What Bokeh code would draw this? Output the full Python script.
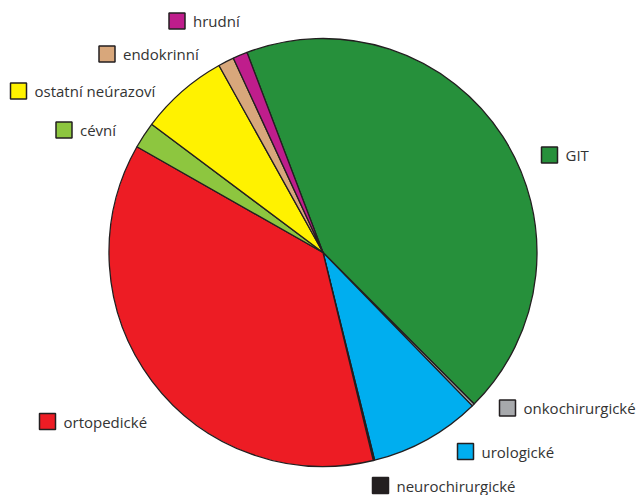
import math
from bokeh.plotting import figure
from bokeh.models import ColumnDataSource, Range1d
from bokeh.embed import file_html
from bokeh.resources import INLINE
from bokeh.core.properties import value

# ---- data (shares in %, clockwise order) ----
categories = ["GIT", "onkochirurgické", "urologické", "neurochirurgické", "ortopedické",
              "cévní", "ostatní neúrazoví", "endokrinní", "hrudní"]
shares = [43.3, 0.2, 8.4, 0.1, 37.0, 2.0, 6.7, 1.2, 1.1]
colors = ["#26903b", "#a7a9ac", "#00aeef", "#231f20", "#ed1c24",
          "#8dc63f", "#fff200", "#d8a77b", "#bf1d8c"]

# ---- layout (pixel coordinates of the 639x495 picture) ----
W, H = 639, 495
CX, CY, R = 322.5, 252.0, 214.0
START_DEG = 110.8  # math angle where the first slice begins, going clockwise

# legend square centres (picture coords)
legend_pos = {
    "GIT": (549, 154.5),
    "onkochirurgické": (507, 407.5),
    "urologické": (465, 451),
    "neurochirurgické": (380, 485),
    "ortopedické": (47, 421),
    "cévní": (63.5, 129.5),
    "ostatní neúrazoví": (18, 90.5),
    "endokrinní": (106.5, 53.5),
    "hrudní": (176.5, 20.5),
}

def yd(sy):
    return H - sy

total = sum(shares)
starts, ends = [], []
acc = 0.0
for s in shares:
    a0 = START_DEG - acc / total * 360.0
    a1 = a0 - s / total * 360.0
    starts.append(math.radians(a0))
    ends.append(math.radians(a1))
    acc += s

p = figure(width=W, height=H, output_backend="svg", toolbar_location=None,
           x_axis_type=None, y_axis_type=None, min_border=0,
           x_range=Range1d(0, W), y_range=Range1d(0, H))
p.outline_line_color = None
p.grid.visible = False
p.background_fill_color = "white"
p.border_fill_color = "white"

src = ColumnDataSource(dict(start=starts, end=ends, color=colors, cat=categories))
p.wedge(x=CX, y=yd(CY), radius=R, start_angle="start", end_angle="end",
        direction="clock", fill_color="color", line_color="#231f20",
        line_width=1.3, source=src)

SQ = 16
lx = [legend_pos[c][0] for c in categories]
ly = [yd(legend_pos[c][1]) for c in categories]
p.rect(x=lx, y=ly, width=SQ, height=SQ, fill_color=colors,
       line_color="#231f20", line_width=1.5)

tx = [x + SQ / 2 + 8 for x in lx]
p.text(x=tx, y=ly, text=categories, text_font=value("Open Sans"),
       text_font_size="15px", text_color="#333333",
       text_baseline="middle", text_align="left")

open("out.html", "w").write(file_html(p, INLINE))
